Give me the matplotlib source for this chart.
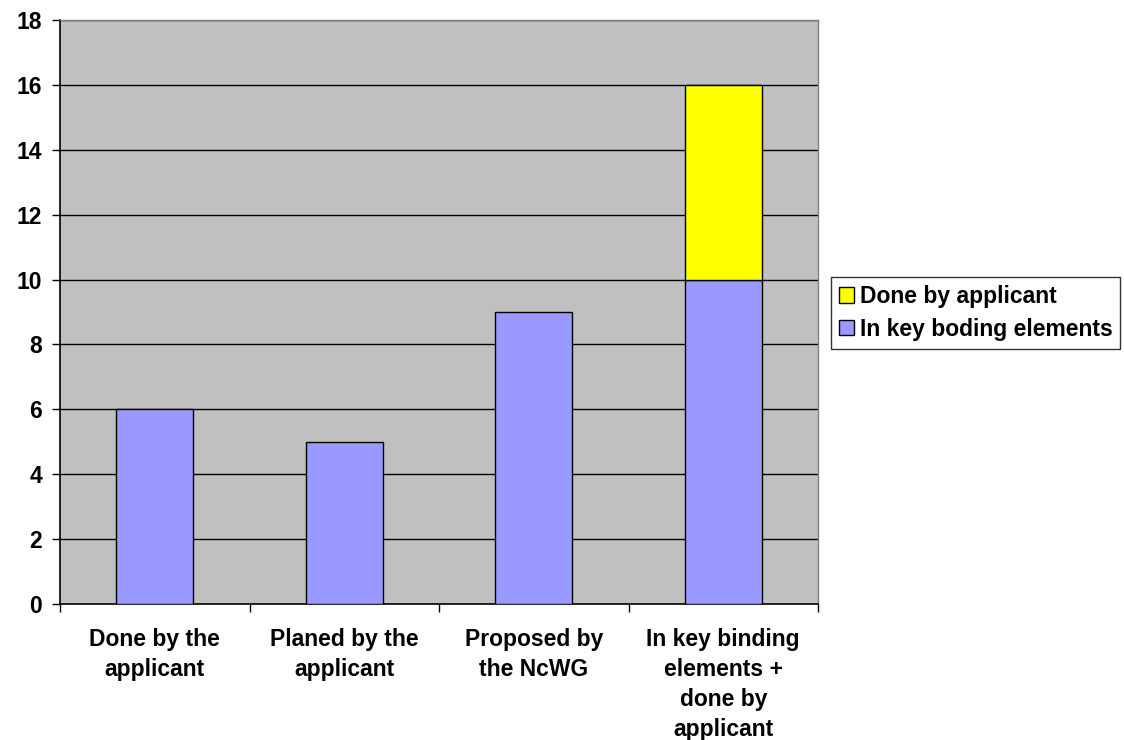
import matplotlib
matplotlib.use("Agg")
import matplotlib.pyplot as plt
import numpy as np

# ---------- data ----------
categories = ["Done by the\napplicant", "Planed by the\napplicant",
              "Proposed by\nthe NcWG", "In key binding\nelements +\ndone by\napplicant"]
key_elements = [6, 5, 9, 10]
done_by_applicant = [0, 0, 0, 6]
y_ticks = [0, 2, 4, 6, 8, 10, 12, 14, 16, 18]

plt.rcParams["font.family"] = ["Liberation Sans", "DejaVu Sans"]
plt.rcParams["font.weight"] = "bold"

fig = plt.figure(figsize=(11.24, 7.4), dpi=100)
ax = fig.add_axes([60 / 1124, 1 - 604 / 740, 758 / 1124, 584 / 740])
ax.set_facecolor("#C0C0C0")

x = np.arange(len(categories))
width = 0.405

# horizontal gridlines behind the bars
for t in y_ticks[1:]:
    ax.axhline(t, color="black", linewidth=1.0, zorder=1)

ax.bar(x, key_elements, width=width, color="#9999FF", edgecolor="black",
       linewidth=1.0, zorder=3, label="In key boding elements")
top = np.array(done_by_applicant, dtype=float)
mask = top > 0
ax.bar(x[mask], top[mask], width=width, bottom=np.array(key_elements)[mask],
       color="#FFFF00", edgecolor="black", linewidth=1.0, zorder=3,
       label="Done by applicant")

ax.set_xlim(-0.5, len(categories) - 0.5)
ax.set_ylim(0, 18)
ax.set_yticks(y_ticks)
ax.tick_params(axis="y", direction="out", length=6, width=1, pad=7, labelsize=16.5)

# category labels centred, tick marks on the category boundaries
ax.set_xticks(x)
ax.set_xticklabels(categories, fontsize=16.5, fontweight="bold", linespacing=1.4)
ax.tick_params(axis="x", which="major", length=0, pad=17)
ax.set_xticks(np.arange(-0.5, len(categories)), minor=True)
ax.tick_params(axis="x", which="minor", direction="out", length=6, width=1)

for s in ("top", "right"):
    ax.spines[s].set_color("#808080")
    ax.spines[s].set_linewidth(1.0)
for s in ("left", "bottom"):
    ax.spines[s].set_color("black")
    ax.spines[s].set_linewidth(1.2)

handles, labels = ax.get_legend_handles_labels()
leg = fig.legend(handles[::-1], labels[::-1], loc="upper left",
                 bbox_to_anchor=(831 / 1124, 1 - 277 / 740),
                 fontsize=16.5, frameon=True, fancybox=False, edgecolor="black",
                 handlelength=0.65, handleheight=0.65, handletextpad=0.25,
                 borderpad=0.35, labelspacing=0.42, borderaxespad=0)
leg.get_frame().set_linewidth(1.0)
for text in leg.get_texts():
    text.set_fontweight("bold")

fig.savefig("out.png", dpi=100, facecolor="white")
